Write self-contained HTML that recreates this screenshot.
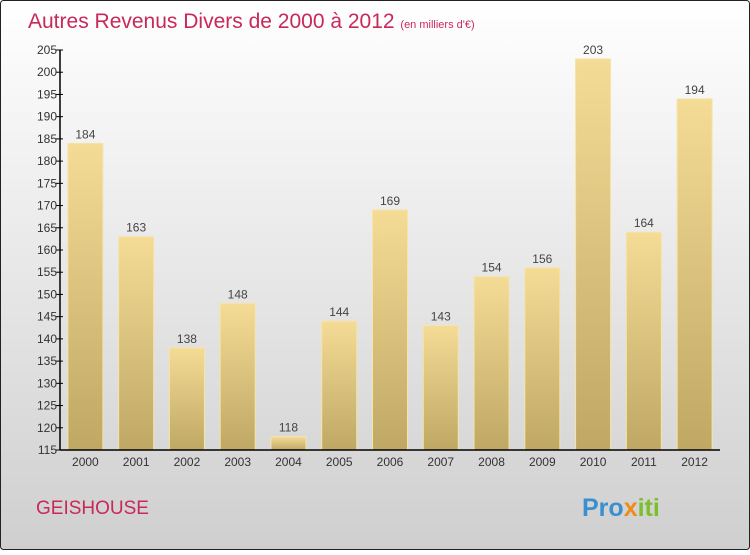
<!DOCTYPE html>
<html><head><meta charset="utf-8"><style>
body{margin:0;width:750px;height:550px;overflow:hidden;font-family:"Liberation Sans",sans-serif}
</style></head><body>
<svg width="750" height="550" xmlns="http://www.w3.org/2000/svg">
<defs>
<linearGradient id="bg" x1="0" y1="0" x2="0" y2="1"><stop offset="0" stop-color="#ffffff"/><stop offset="1" stop-color="#cfcfcf"/></linearGradient>
<linearGradient id="bar" x1="0" y1="0" x2="0" y2="1"><stop offset="0" stop-color="#f4dc96"/><stop offset="1" stop-color="#bfa864"/></linearGradient>
</defs>
<rect x="0.5" y="0.5" width="749" height="549" rx="3" fill="url(#bg)" stroke="#222"/>
<text x="28" y="28" font-size="21" fill="#c8285a">Autres Revenus Divers de 2000 à 2012 <tspan font-size="11">(en milliers d'€)</tspan></text>
<g id="plot"></g>
<text x="36" y="514" font-size="19" fill="#c8285a">GEISHOUSE</text>
<text x="582" y="516" font-size="25" font-weight="bold" fill="#3a8fd0">Pro<tspan fill="#f08a1c">x</tspan><tspan fill="#7bbf2a">iti</tspan></text>
</svg>
<script>
const categories=["2000","2001","2002","2003","2004","2005","2006","2007","2008","2009","2010","2011","2012"];
const values=[184,163,138,148,118,144,169,143,154,156,203,164,194];
const yTicks=[115,120,125,130,135,140,145,150,155,160,165,170,175,180,185,190,195,200,205];
const yMin=115,yMax=205,plotTop=50,plotBottom=450,plotLeft=60,plotRight=720;
const NS="http://www.w3.org/2000/svg";
const g=document.getElementById('plot');
const yScale=v=>plotBottom-(v-yMin)/(yMax-yMin)*(plotBottom-plotTop);
const step=(plotRight-plotLeft)/categories.length;
const xScale=i=>plotLeft+step*(i+0.5);
function mk(t,a){const e=document.createElementNS(NS,t);for(const k in a)e.setAttribute(k,a[k]);g.appendChild(e);return e;}
values.forEach((v,i)=>{
 const r=mk('rect',{x:xScale(i)-17.5,y:yScale(v),width:35,height:plotBottom-yScale(v),fill:'url(#bar)',stroke:'#f6e4a8','stroke-width':1});
 
 
 const t=mk('text',{x:xScale(i),y:yScale(v)-5,'font-size':12,'text-anchor':'middle',fill:'#444'});
 t.textContent=v;
 
 
 const c=mk('text',{x:xScale(i),y:plotBottom+16,'font-size':12,'text-anchor':'middle',fill:'#333'});
 c.textContent=categories[i];
 
 
});
yTicks.forEach(v=>{
 const l=mk('line',{x1:plotLeft-4,x2:plotLeft+3,y1:yScale(v),y2:yScale(v),stroke:'#000'});
 
 
 const t=mk('text',{x:plotLeft-3,y:yScale(v)+4,'font-size':12,'text-anchor':'end',fill:'#333'});
 t.textContent=v;
 
 
});
const ya=mk('line',{x1:plotLeft,x2:plotLeft,y1:plotTop,y2:plotBottom,stroke:'#000','stroke-width':1.5});


const xa=mk('line',{x1:plotLeft,x2:plotRight,y1:plotBottom,y2:plotBottom,stroke:'#000','stroke-width':1.5});


</script>
</body></html>
